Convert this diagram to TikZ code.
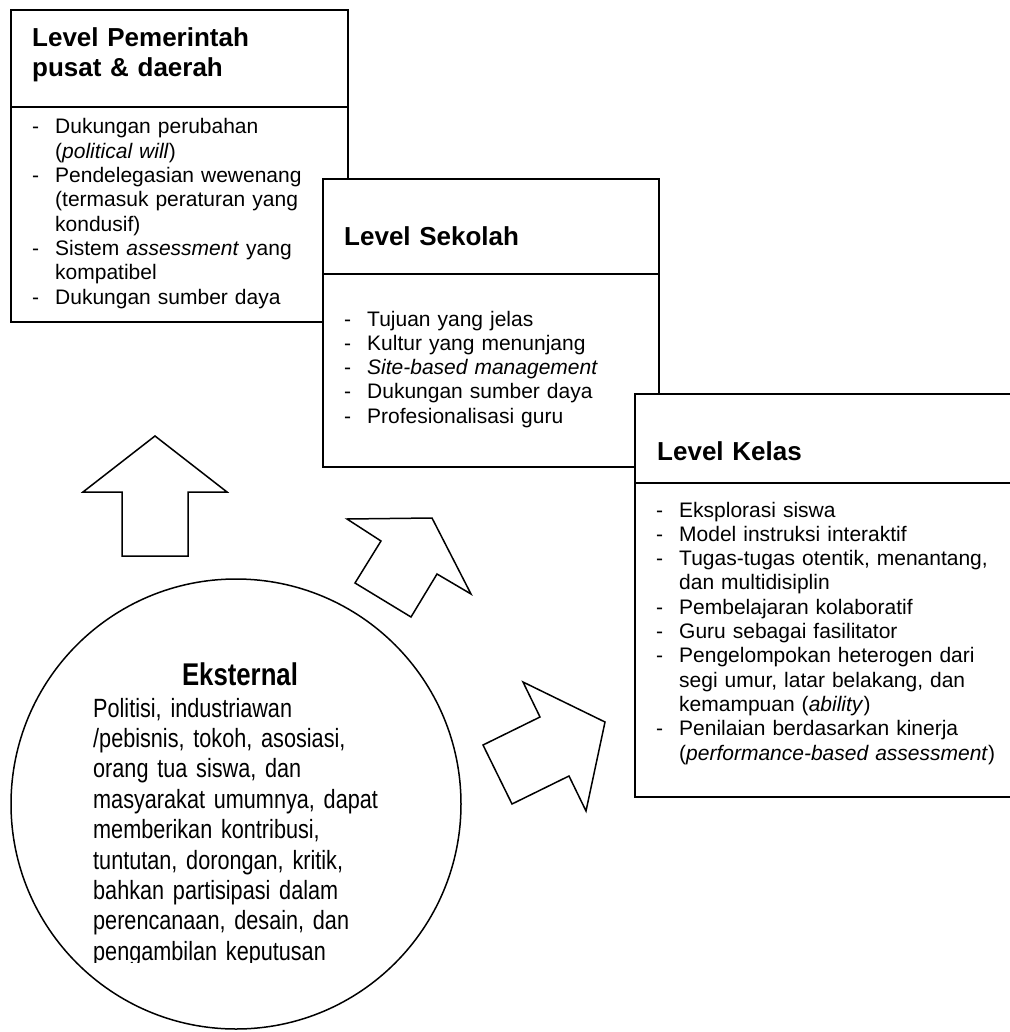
\documentclass[tikz,border=0pt]{standalone}
\usepackage{fontspec}
\setmainfont{Liberation Sans}
\newfontfamily\narrowfont[FakeStretch=0.82]{Liberation Sans}
\newcommand\bodyfont{\fontsize{21}{24.3}\selectfont}
\newcommand\headfont{\fontsize{26}{30}\selectfont\bfseries}
% one dashed list entry with a hanging indent
\newcommand\listentry[1]{\hangindent=23pt\hangafter=1\makebox[23pt][l]{-}#1\par}
\tikzset{
  levelbox/.style={draw, fill=white, line width=1.5pt, inner sep=0pt, outer sep=0pt, anchor=north west},
  headtext/.style={font=\headfont, inner sep=0pt, anchor=base west, text width=320pt},
  listtext/.style={font=\bodyfont, inner sep=0pt, anchor=base west, text width=340pt},
  blockarrow/.style={draw, line width=1.5pt, line join=miter},
}
\begin{document}
\begin{tikzpicture}[x=1pt, y=-1pt]
\useasboundingbox (0,0) rectangle (1009,1032);

% --- government level
\node[levelbox, minimum width=337pt, minimum height=312pt] (pemerintah) at (11,10) {};
\draw[line width=1.5pt] (pemerintah.west |- 0,107) -- (pemerintah.east |- 0,107);
\node[headtext] (pemerintahhead) at (32,47) {Level Pemerintah\\pusat \& daerah};
\node[listtext] (pemerintahlist) at (32,134) {%
  \listentry{Dukungan perubahan\newline(\textit{political will})}%
  \listentry{Pendelegasian wewenang\newline(termasuk peraturan yang\newline kondusif)}%
  \listentry{Sistem \textit{assessment} yang\newline kompatibel}%
  \listentry{Dukungan sumber daya}};

% --- school level
\node[levelbox, minimum width=336pt, minimum height=288pt] (sekolah) at (323,179) {};
\draw[line width=1.5pt] (sekolah.west |- 0,274) -- (sekolah.east |- 0,274);
\node[headtext] (sekolahhead) at (344,245) {Level Sekolah};
\node[listtext] (sekolahlist) at (344,326) {%
  \listentry{Tujuan yang jelas}%
  \listentry{Kultur yang menunjang}%
  \listentry{\textit{Site-based management}}%
  \listentry{Dukungan sumber daya}%
  \listentry{Profesionalisasi guru}};

% --- classroom level
\node[levelbox, minimum width=378pt, minimum height=403pt] (kelas) at (635,394) {};
\draw[line width=1.5pt] (kelas.west |- 0,483) -- (kelas.east |- 0,483);
\node[headtext] (kelashead) at (657,460) {Level Kelas};
\node[listtext] (kelaslist) at (656,517) {%
  \listentry{Eksplorasi siswa}%
  \listentry{Model instruksi interaktif}%
  \listentry{Tugas-tugas otentik, menantang,\newline dan multidisiplin}%
  \listentry{Pembelajaran kolaboratif}%
  \listentry{Guru sebagai fasilitator}%
  \listentry{Pengelompokan heterogen dari\newline segi umur, latar belakang, dan\newline kemampuan (\textit{ability})}%
  \listentry{Penilaian berdasarkan kinerja\newline(\textit{performance-based assessment})}};

% --- block arrows
\draw[blockarrow] (155,436) -- (227,492) -- (188,492) -- (188,556) -- (122,556) -- (122,492) -- (83,492) -- cycle;
\draw[blockarrow] (432,518) -- (471,594) -- (437,574) -- (411,617) -- (355,583) -- (381,541) -- (347,519) -- cycle;
\draw[blockarrow] (605,722) -- (586,811) -- (569,776) -- (512,804) -- (483,745) -- (540,717) -- (523,682) -- cycle;

% --- external stakeholders
\node[circle, draw, line width=1.5pt, minimum size=450pt, inner sep=0pt] (eksternal) at (236,804) {};
\node[inner sep=0pt, anchor=base, font=\narrowfont\fontsize{31.4}{36}\selectfont\bfseries] (eksternalhead) at (240,685) {Eksternal};
\begin{scope}
  \clip (0,0) rectangle (1009,962);
  \node[inner sep=0pt, anchor=base west, text width=380pt, font=\narrowfont\fontsize{26.4}{30.4}\selectfont] (eksternaltext) at (93,717) {%
    Politisi, industriawan\\
    /pebisnis, tokoh, asosiasi,\\
    orang tua siswa, dan\\
    masyarakat umumnya, dapat\\
    memberikan kontribusi,\\
    tuntutan, dorongan, kritik,\\
    bahkan partisipasi dalam\\
    perencanaan, desain, dan\\
    pengambilan keputusan};
\end{scope}
\end{tikzpicture}
\end{document}
